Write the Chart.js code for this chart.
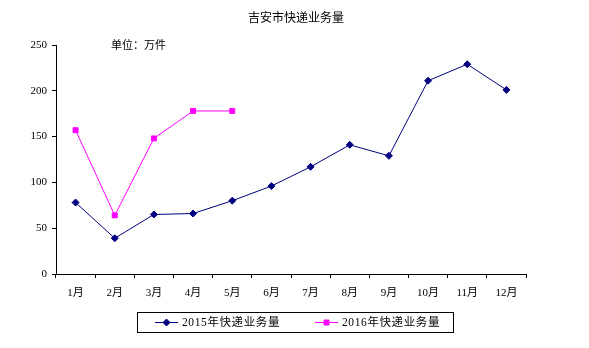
<!DOCTYPE html>
<html>
<head>
<meta charset="utf-8">
<script src="https://cdn.jsdelivr.net/npm/chart.js@4/dist/chart.umd.min.js"></script>
<style>
  html, body { margin: 0; padding: 0; background: #fff; }
  #wrap { width: 589px; height: 348px; }
</style>
</head>
<body>
<div id="wrap"><canvas id="chart" width="589" height="348"></canvas></div>
<script>
// Monthly express volume, 10k pieces
const months = ['1月', '2月', '3月', '4月', '5月', '6月', '7月', '8月', '9月', '10月', '11月', '12月'];
const volume2015 = [78, 39, 65, 66, 80, 96, 117, 141, 129, 211, 229, 201];
const volume2016 = [157, 64, 148, 178, 178];
const seriesNames = ['2015年快递业务量', '2016年快递业务量'];
const yTicks = [0, 50, 100, 150, 200, 250];

const FONT = '"Liberation Serif", "Times New Roman", "Noto Sans CJK SC", serif';
const NAVY = '#000080';
const MAGENTA = '#FF00FF';

// Title, unit note and the boxed legend at the bottom
const decorations = {
    id: 'decorations',
    afterDraw(chart) {
        const ctx = chart.ctx;
        ctx.save();
        ctx.fillStyle = '#000';
        ctx.textBaseline = 'middle';
        ctx.font = '12px ' + FONT;
        ctx.textAlign = 'center';
        ctx.fillText('吉安市快递业务量', 296, 19);
        ctx.font = '11px ' + FONT;
        ctx.textAlign = 'left';
        ctx.fillText('单位：万件', 111, 46);

        // legend box
        ctx.strokeStyle = '#000';
        ctx.lineWidth = 1;
        ctx.strokeRect(137.5, 312.5, 316, 20);
        let items = [
            { x: 155, color: NAVY, style: 'rectRot', r: 3.5 },
            { x: 315, color: MAGENTA, style: 'rect', r: 3.5 }
        ];
        for (let i = 0; i < items.length; i++) {
            let it = items[i];
            ctx.strokeStyle = it.color;
            ctx.beginPath();
            ctx.moveTo(it.x, 322.5);
            ctx.lineTo(it.x + 23, 322.5);
            ctx.stroke();
            ctx.fillStyle = it.color;
            Chart.helpers.drawPoint(ctx, { pointStyle: it.style, radius: it.r, borderWidth: 1 }, it.x + 11.5, 322.5);
            ctx.fillStyle = '#000';
            ctx.font = '11.5px ' + FONT;
            ctx.letterSpacing = '0.6px';
            ctx.fillText(seriesNames[i], it.x + 27, 323);
            ctx.letterSpacing = '0px';
        }
        ctx.restore();
    }
};

new Chart(document.getElementById('chart').getContext('2d'), {
    type: 'line',
    data: {
        labels: months,
        datasets: [
            {
                label: seriesNames[0],
                data: volume2015,
                borderColor: NAVY,
                backgroundColor: NAVY,
                borderWidth: 1,
                pointStyle: 'rectRot',
                pointRadius: 3.5,
                pointBorderWidth: 1,
                tension: 0
            },
            {
                label: seriesNames[1],
                data: volume2016,
                borderColor: MAGENTA,
                backgroundColor: MAGENTA,
                borderWidth: 1,
                pointStyle: 'rect',
                pointRadius: 3.5,
                pointBorderWidth: 1,
                tension: 0
            }
        ]
    },
    options: {
        responsive: false,
        animation: false,
        events: [],
        layout: { padding: { top: 45, right: 63, left: 0, bottom: 0 } },
        plugins: {
            legend: { display: false },
            title: { display: false },
            tooltip: { enabled: false }
        },
        scales: {
            x: {
                offset: true,
                afterFit: s => { s.height = 74; },
                grid: { display: true, offset: true, drawOnChartArea: false, drawTicks: true, tickLength: 4, color: '#000' },
                border: { display: true, color: '#000', width: 1 },
                ticks: { color: '#000', font: { family: FONT, size: 11 }, padding: 9, maxRotation: 0, autoSkip: false }
            },
            y: {
                min: 0,
                max: 250,
                afterFit: s => { s.width = 56; },
                afterBuildTicks: s => { s.ticks = yTicks.map(v => ({ value: v })); },
                grid: { display: true, drawOnChartArea: false, drawTicks: true, tickLength: 4, color: '#000' },
                border: { display: true, color: '#000', width: 1 },
                ticks: { color: '#000', font: { family: FONT, size: 11 }, padding: 5 }
            }
        }
    },
    plugins: [decorations]
});
</script>
</body>
</html>
